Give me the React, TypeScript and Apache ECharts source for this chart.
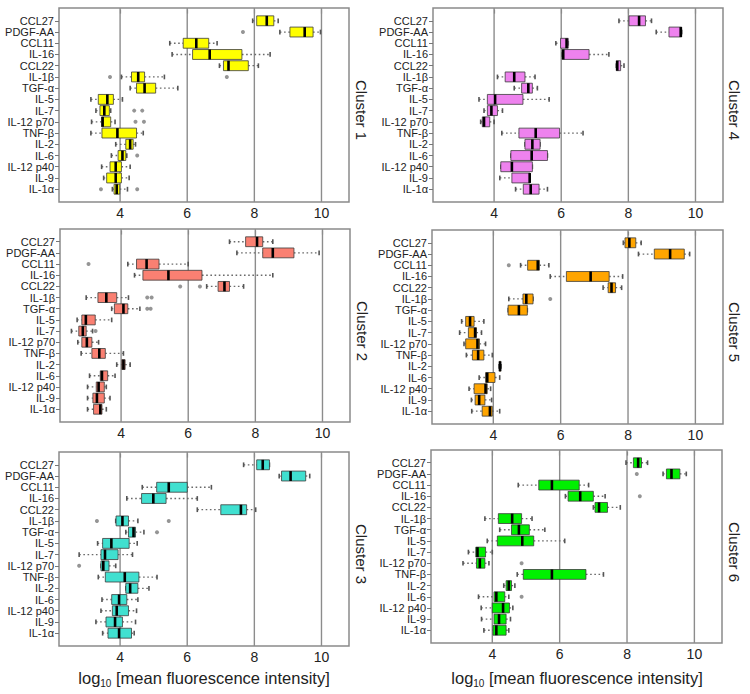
import React, { useEffect, useRef } from "react";
import * as echarts from "echarts";

// ---------- data ----------
const categories = [
  "CCL27", "PDGF-AA", "CCL11", "IL-16", "CCL22", "IL-1β", "TGF-α", "IL-5",
  "IL-7", "IL-12 p70", "TNF-β", "IL-2", "IL-6", "IL-12 p40", "IL-9", "IL-1α",
];
const xTicks = [4, 6, 8, 10];
const clusterNames = ["Cluster 1", "Cluster 2", "Cluster 3", "Cluster 4", "Cluster 5", "Cluster 6"];

// [low whisker, Q1, median, Q3, high whisker] per category (log10 MFI)
const cluster1 = [
  [7.95, 8.07, 8.37, 8.58, 8.71], [8.76, 9.06, 9.5, 9.75, 9.97], [5.48, 5.88, 6.27, 6.64, 6.89],
  [5.55, 6.16, 6.67, 7.63, 8.47], [6.96, 7.08, 7.23, 7.82, 8.12], [4.04, 4.34, 4.54, 4.73, 5.32],
  [4.3, 4.49, 4.73, 5.06, 5.72], [3.13, 3.35, 3.62, 3.8, 4.07], [3.28, 3.4, 3.53, 3.68, 3.72],
  [3.15, 3.45, 3.48, 3.72, 3.85], [3.13, 3.46, 3.92, 4.49, 4.69], [3.87, 4.17, 4.3, 4.39, 4.46],
  [3.74, 3.94, 4.07, 4.17, 4.2], [3.45, 3.7, 3.87, 4.04, 4.3], [3.51, 3.6, 3.87, 4.04, 4.27],
  [3.77, 3.82, 3.9, 3.99, 4.22],
];
const cluster2 = [
  [7.23, 7.71, 8.05, 8.22, 8.52], [7.45, 8.22, 8.52, 9.15, 9.9], [4.2, 4.46, 4.76, 5.13, 6.0],
  [4.4, 4.65, 5.41, 6.41, 8.52], [6.55, 6.89, 7.08, 7.23, 7.65], [2.96, 3.31, 3.56, 3.87, 4.22],
  [3.72, 3.8, 4.07, 4.2, 4.56], [2.69, 2.83, 2.95, 3.23, 3.72], [2.52, 2.74, 2.86, 2.96, 3.15],
  [2.71, 2.83, 2.98, 3.13, 3.33], [2.81, 3.13, 3.35, 3.53, 4.07], [3.87, 4.02, 4.07, 4.12, 4.27],
  [3.06, 3.38, 3.43, 3.6, 3.82], [3.0, 3.26, 3.33, 3.5, 3.56], [3.0, 3.16, 3.28, 3.5, 3.67],
  [3.0, 3.18, 3.38, 3.43, 3.56],
];
const cluster3 = [
  [7.68, 8.07, 8.25, 8.45, 8.45], [8.74, 8.81, 9.08, 9.53, 9.65], [4.66, 5.09, 5.45, 6.0, 6.72],
  [4.2, 4.64, 4.99, 5.37, 6.3], [6.3, 7.0, 7.6, 7.77, 8.04], [3.87, 3.88, 4.07, 4.25, 4.53],
  [4.17, 4.25, 4.4, 4.46, 4.71], [3.33, 3.48, 3.74, 4.27, 4.51], [2.78, 3.43, 3.55, 3.94, 4.37],
  [3.43, 3.43, 3.5, 3.67, 3.87], [3.35, 3.56, 4.14, 4.56, 5.1], [4.17, 4.17, 4.3, 4.53, 4.86],
  [3.46, 3.75, 3.97, 4.2, 4.53], [3.43, 3.77, 3.9, 4.25, 4.49], [3.28, 3.58, 3.85, 4.07, 4.46],
  [3.48, 3.64, 3.97, 4.34, 4.42],
];
const cluster4 = [
  [7.72, 8.02, 8.32, 8.51, 8.69], [8.83, 9.21, 9.56, 9.59, 9.59], [5.84, 5.98, 6.16, 6.21, 6.21],
  [6.03, 6.03, 6.06, 6.83, 7.42], [7.64, 7.64, 7.67, 7.77, 7.87], [4.1, 4.33, 4.6, 4.92, 5.22],
  [4.6, 4.82, 5.02, 5.14, 5.29], [3.55, 3.8, 4.03, 4.86, 5.64], [3.7, 3.8, 3.92, 4.1, 4.25],
  [3.6, 3.65, 3.7, 3.87, 4.0], [4.23, 4.74, 5.24, 5.95, 6.65], [4.92, 4.92, 5.14, 5.37, 5.37],
  [4.5, 4.5, 5.12, 5.59, 5.59], [4.2, 4.2, 4.53, 5.14, 5.14], [4.17, 4.53, 5.06, 5.07, 5.07],
  [4.64, 4.87, 5.09, 5.34, 5.59],
];
const cluster5 = [
  [7.86, 7.91, 8.04, 8.23, 8.39], [8.31, 8.78, 9.25, 9.67, 9.83], [4.81, 5.02, 5.32, 5.37, 5.65],
  [5.69, 6.17, 6.89, 7.44, 7.84], [7.26, 7.41, 7.51, 7.63, 7.81], [4.46, 4.88, 4.98, 5.18, 5.18],
  [4.44, 4.44, 4.76, 5.01, 5.01], [3.06, 3.18, 3.31, 3.43, 3.72], [3.0, 3.26, 3.46, 3.5, 3.65],
  [3.13, 3.18, 3.53, 3.59, 3.77], [3.2, 3.38, 3.55, 3.72, 3.97], [4.17, 4.18, 4.2, 4.22, 4.23],
  [3.58, 3.77, 3.82, 4.05, 4.19], [3.28, 3.43, 3.77, 3.82, 3.92], [3.35, 3.46, 3.58, 3.75, 3.95],
  [3.36, 3.67, 3.9, 3.97, 4.19],
];
const cluster6 = [
  [7.97, 8.19, 8.33, 8.43, 8.61], [9.07, 9.17, 9.32, 9.57, 9.76], [4.77, 5.38, 5.77, 6.58, 6.86],
  [6.17, 6.25, 6.61, 7.0, 7.35], [7.0, 7.05, 7.17, 7.42, 7.8], [3.78, 4.18, 4.59, 4.87, 5.18],
  [4.22, 4.57, 4.79, 5.1, 5.56], [3.85, 4.15, 4.89, 5.23, 6.15], [3.29, 3.51, 3.56, 3.8, 4.0],
  [3.13, 3.53, 3.63, 3.78, 3.9], [4.74, 4.92, 5.77, 6.78, 7.3], [4.34, 4.41, 4.49, 4.57, 4.67],
  [3.59, 4.05, 4.12, 4.37, 4.49], [3.67, 4.0, 4.32, 4.51, 4.61], [3.68, 4.05, 4.2, 4.41, 4.54],
  [3.75, 4.02, 4.12, 4.41, 4.49],
];

// outliers: [category index (0-based), value]
const outliers1 = [[1, 7.66], [5, 3.7], [5, 7.18], [8, 4.42], [8, 4.66], [9, 4.46], [9, 4.71], [12, 4.51], [15, 3.43], [15, 4.51]];
const outliers2 = [[2, 3.03], [4, 5.76], [4, 6.35], [5, 4.78], [5, 4.91], [6, 4.78], [6, 4.88], [8, 3.24]];
const outliers3 = [[5, 3.31], [5, 5.45], [6, 5.1], [9, 2.78]];
const outliers4: number[][] = [];
const outliers5 = [[2, 4.46], [5, 5.69]];
const outliers6 = [[1, 8.29], [3, 8.38], [9, 4.87], [12, 4.87]];

const clusterStats = [cluster1, cluster2, cluster3, cluster4, cluster5, cluster6];
const clusterOutliers = [outliers1, outliers2, outliers3, outliers4, outliers5, outliers6];
const clusterColors = ["#FFFF00", "#FA8072", "#40E0D0", "#EE82EE", "#FFA500", "#00F000"];

// ---------- layout ----------
const X_MIN = 2.18;
const X_MAX = 10.82;
const Y_MIN = -0.14;
const Y_MAX = 17.14;
const BOX_W = 0.88;
const FONT = "'Liberation Sans', Arial, Helvetica, sans-serif";

// panel order: cluster 1..6 ; left column 1-3, right column 4-6
const gridBoxes = [
  { left: 59, top: 8, width: 290, height: 194 },
  { left: 60, top: 229, width: 290, height: 193 },
  { left: 59, top: 452, width: 290, height: 194 },
  { left: 433, top: 8, width: 290, height: 194 },
  { left: 432, top: 230, width: 291, height: 194 },
  { left: 431, top: 450, width: 291, height: 193 },
];

function makeBoxRenderer(color: string) {
  return (params: any, api: any) => {
    const row = api.value(0);
    const lo = api.value(1), q1 = api.value(2), md = api.value(3), q3 = api.value(4), hi = api.value(5);
    const h = api.size([0, BOX_W])[1];
    const p = (v: number) => api.coord([v, row]);
    const y = p(md)[1];
    const xLo = p(lo)[0], xQ1 = p(q1)[0], xMd = p(md)[0], xQ3 = p(q3)[0], xHi = p(hi)[0];
    const whisk = { stroke: "#6a6a6a", lineWidth: 1.3, lineDash: [1.6, 2.6] };
    const staple = { stroke: "#555", lineWidth: 1.6 };
    const s = h * 0.24;
    return {
      type: "group",
      children: [
        { type: "line", shape: { x1: xLo, y1: y, x2: xQ1, y2: y }, style: whisk },
        { type: "line", shape: { x1: xQ3, y1: y, x2: xHi, y2: y }, style: whisk },
        { type: "line", shape: { x1: xLo, y1: y - s, x2: xLo, y2: y + s }, style: staple },
        { type: "line", shape: { x1: xHi, y1: y - s, x2: xHi, y2: y + s }, style: staple },
        {
          type: "rect",
          shape: { x: xQ1, y: y - h / 2, width: Math.max(xQ3 - xQ1, 1), height: h },
          style: { fill: color, stroke: "rgba(60,60,60,0.8)", lineWidth: 1 },
        },
        {
          type: "line",
          shape: { x1: xMd, y1: y - h / 2, x2: xMd, y2: y + h / 2 },
          style: { stroke: "#000", lineWidth: 2.6 },
        },
      ],
    };
  };
}

function gridLineRenderer(params: any, api: any) {
  const v = api.value(0);
  const a = api.coord([v, Y_MIN]);
  const b = api.coord([v, Y_MAX]);
  return {
    type: "line",
    shape: { x1: a[0], y1: a[1], x2: b[0], y2: b[1] },
    style: { stroke: "#8c8c8c", lineWidth: 1.4 },
  };
}

export default function App() {
  const ref = useRef<HTMLDivElement>(null);

  useEffect(() => {
    if (!ref.current) return;
    const chart = echarts.init(ref.current, null, { renderer: "svg" });
    const rowIdx = categories.map((_, i) => i + 1);

    const grid = gridBoxes.map((g) => ({
      ...g,
      show: true,
      borderColor: "#8a8a8a",
      borderWidth: 1.5,
      backgroundColor: "transparent",
      containLabel: false,
    }));

    const xAxis = gridBoxes.map((_, i) => ({
      type: "value",
      gridIndex: i,
      min: X_MIN,
      max: X_MAX,
      axisLine: { show: false },
      splitLine: { show: false },
      axisTick: {
        show: true,
        customValues: xTicks,
        length: 4,
        lineStyle: { color: "#777", width: 1.2 },
      },
      axisLabel: {
        customValues: xTicks,
        margin: 4,
        fontSize: 14,
        color: "#222",
        fontFamily: FONT,
      },
    }));

    const yAxis = gridBoxes.map((_, i) => ({
      type: "value",
      gridIndex: i,
      min: Y_MIN,
      max: Y_MAX,
      inverse: true,
      axisLine: { show: false },
      splitLine: { show: false },
      axisTick: {
        show: true,
        customValues: rowIdx,
        length: 4,
        lineStyle: { color: "#777", width: 1 },
      },
      axisLabel: {
        customValues: rowIdx,
        margin: 5,
        fontSize: 11,
        color: "#222",
        fontFamily: FONT,
        formatter: (v: number) => categories[Math.round(v) - 1] ?? "",
      },
    }));

    const series: any[] = [];
    clusterStats.forEach((stats, i) => {
      series.push({
        type: "custom",
        name: "grid" + i,
        xAxisIndex: i,
        yAxisIndex: i,
        z: 1,
        silent: true,
        renderItem: gridLineRenderer,
        encode: { x: 0 },
        data: xTicks.map((t) => [t]),
      });
      series.push({
        type: "custom",
        name: clusterNames[i],
        xAxisIndex: i,
        yAxisIndex: i,
        z: 2,
        renderItem: makeBoxRenderer(clusterColors[i]),
        encode: { x: [1, 2, 3, 4, 5], y: 0 },
        data: stats.map((s, k) => [k + 1, ...s]),
      });
      series.push({
        type: "scatter",
        name: clusterNames[i] + " outliers",
        xAxisIndex: i,
        yAxisIndex: i,
        z: 3,
        symbol: "circle",
        symbolSize: 4,
        itemStyle: { color: "#7a7a7a" },
        data: clusterOutliers[i].map(([k, v]) => [v, k + 1]),
      });
    });

    const clusterLabelPos = [
      [361, 110], [362, 331], [361, 554], [734, 110], [734, 332], [734, 552],
    ];
    const graphics: any[] = clusterNames.map((name, i) => ({
      type: "text",
      x: clusterLabelPos[i][0],
      y: clusterLabelPos[i][1],
      rotation: -Math.PI / 2,
      style: {
        text: name,
        fontSize: 15,
        fontFamily: FONT,
        fill: "#222",
        textAlign: "center",
        textVerticalAlign: "middle",
      },
    }));
    [[204, 678], [577, 678]].forEach(([x, y]) => {
      graphics.push({
        type: "text",
        x,
        y,
        style: {
          text: "{a|log}{b|10}{a| [mean fluorescence intensity]}",
          textAlign: "center",
          textVerticalAlign: "middle",
          fill: "#222",
          rich: {
            a: { fontSize: 16.5, fontFamily: FONT, fill: "#222", lineHeight: 20, verticalAlign: "middle" },
            b: { fontSize: 10, fontFamily: FONT, fill: "#222", lineHeight: 11, verticalAlign: "bottom" },
          },
        },
      });
    });

    chart.setOption({
      animation: false,
      backgroundColor: "#ffffff",
      grid,
      xAxis,
      yAxis,
      series,
      graphic: graphics,
    });

    return () => chart.dispose();
  }, []);

  return (
    <div
      ref={ref}
      style={{ position: "absolute", left: 0, top: 0, width: 750, height: 694, background: "#fff" }}
    />
  );
}
